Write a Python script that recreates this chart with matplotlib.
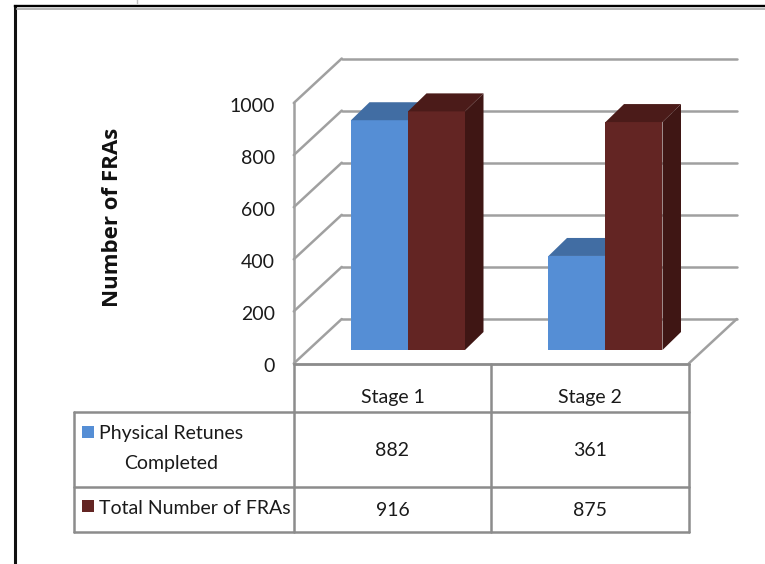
#! /usr/bin/env python3
# coding: utf-8

import matplotlib
matplotlib.use('Agg')
import matplotlib.pyplot as plt

categories = ['Stage 1', 'Stage 2']
physical_retunes = [882, 361]
total_fras = [916, 875]
y_ticks = [0, 200, 400, 600, 800, 1000]
series_labels = ['Physical Retunes\nCompleted', 'Total Number of FRAs']
y_label = 'Number of FRAs'

W, H = 765, 564
PX_PER_UNIT = 0.2605     # pixels per FRA on the value axis
BAND = 197.5             # pixels per category
FLOOR_Y = 363.5
FIRST_BAND_X = 392.5
DEPTH_X, DEPTH_Y = 48 / BAND, 44.5 / PX_PER_UNIT
BAR_W = 57 / BAND
BAR_DX, BAR_DY = 18.5 / BAND, 18 / PX_PER_UNIT
BAR_SHIFT = 15.5 / BAND
BAR_BASE = 13.5 / PX_PER_UNIT

GRID = '#a0a0a0'
BLUE = ('#558ed5', '#416da3', '#3a6090')
RED = ('#632523', '#4b1b19', '#3f1614')
FONT = ['Lato', 'DejaVu Sans']


def bar3d(ax, x, value, colors):
    left, right = x, x + BAR_W
    top = BAR_BASE + value
    ax.bar(left, value, BAR_W, bottom=BAR_BASE, align='edge', color=colors[0], zorder=3)
    ax.fill([left, right, right + BAR_DX, left + BAR_DX],
            [top, top, top + BAR_DY, top + BAR_DY], color=colors[1], lw=0, zorder=3)
    ax.fill([right, right + BAR_DX, right + BAR_DX, right],
            [BAR_BASE, BAR_BASE + BAR_DY, top + BAR_DY, top], color=colors[2], lw=0, zorder=3)


def draw_chart(ax):
    x0 = -0.5
    x1 = len(categories) - 0.5
    ax.set_xlim(-FIRST_BAND_X / BAND, (W - FIRST_BAND_X) / BAND)
    ax.set_ylim(-(H - FLOOR_Y) / PX_PER_UNIT, FLOOR_Y / PX_PER_UNIT)
    ax.axis('off')

    line = dict(color=GRID, lw=1.8, solid_capstyle='round', zorder=1)
    for v in y_ticks:
        ax.plot([x0, x0 + DEPTH_X], [v, v + DEPTH_Y], **line)
        ax.plot([x0 + DEPTH_X, x1 + DEPTH_X], [v + DEPTH_Y, v + DEPTH_Y], **line)
        ax.text(x0 - 19 / BAND, v - 3 / PX_PER_UNIT, str(v), ha='right', va='center',
                fontsize=14, family=FONT, color='#1a1a1a')
    ax.plot([x0, x0], [0, max(y_ticks)], **line)
    ax.plot([x0, x1], [0, 0], **line)
    ax.plot([x1, x1 + DEPTH_X], [0, DEPTH_Y], **line)

    for i in range(len(categories)):
        bar3d(ax, i + BAR_SHIFT - BAR_W, physical_retunes[i], BLUE)
        bar3d(ax, i + BAR_SHIFT, total_fras[i], RED)


def draw_table(ax):
    ax.set_xlim(0, W)
    ax.set_ylim(H, 0)
    ax.axis('off')
    ax.patch.set_alpha(0)

    line = dict(color='#8c8c8c', lw=1.8, solid_capstyle='round')
    text = dict(family=FONT, fontsize=14, color='#1a1a1a', ha='center', va='center')
    left, col0, col1, col2 = 74, 294, 491, 689
    rows = [364, 412, 487, 532]

    ax.plot([col0, col2], [rows[0], rows[0]], **line)
    for y in rows[1:]:
        ax.plot([left, col2], [y, y], **line)
    ax.plot([left, left], [rows[1], rows[3]], **line)
    for x in [col0, col1, col2]:
        ax.plot([x, x], [rows[0], rows[3]], **line)

    for x, name in zip([392.5, 590], categories):
        ax.text(x, 398, name, **text)
    for x, a, b in zip([392.5, 590], physical_retunes, total_fras):
        ax.text(x, 451, str(a), **text)
        ax.text(x, 510, str(b), **text)

    ax.scatter([88], [432], marker='s', s=85, color=BLUE[0], linewidths=0)
    ax.scatter([88], [506], marker='s', s=85, color=RED[0], linewidths=0)
    first, second = series_labels[0].split('\n')
    ax.text(171.5, 433, first, **text)
    ax.text(171, 464, second, **text)
    ax.text(194.5, 508, series_labels[1], **text)

    ax.text(113, 217, y_label, rotation=90, ha='center', va='center',
            family=['Open Sans', 'DejaVu Sans'], fontsize=16, fontweight='bold', color='#111111')

    # frame of the pasted picture
    ax.plot([15.5, 15.5], [6, H], color='#111111', lw=2.2)
    ax.plot([15, W], [6, 6], color='#000000', lw=1.7)
    ax.plot([17, W], [8.5, 8.5], color='#a8a8a8', lw=1.2)
    ax.plot([137, 137], [0, 3], color='#c0c0c0', lw=1.0)


def main():
    fig = plt.figure(figsize=(W / 100, H / 100), dpi=100, facecolor='white')
    chart = fig.add_axes([0, 0, 1, 1])
    draw_chart(chart)
    table = fig.add_axes([0, 0, 1, 1])
    draw_table(table)
    fig.savefig('out.png', dpi=100)


if __name__ == '__main__':
    main()
